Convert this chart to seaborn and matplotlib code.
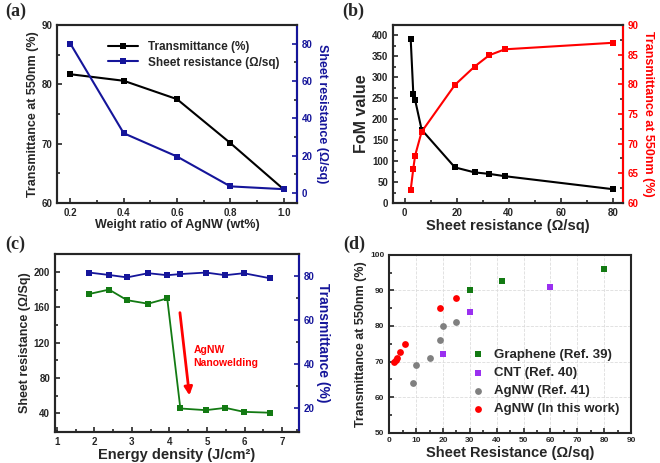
import numpy as np
import matplotlib.pyplot as plt
import seaborn as sns
from matplotlib.ticker import MultipleLocator

sns.set_style("ticks", {"xtick.direction": "in", "ytick.direction": "in"})
plt.rcParams['font.family'] = ['Liberation Sans', 'DejaVu Sans']
plt.rcParams['font.weight'] = 'bold'
plt.rcParams['axes.labelweight'] = 'bold'

# (a) weight ratio
wt_ratio = [0.2, 0.4, 0.6, 0.8, 1.0]
wt_trans = [81.7, 80.6, 77.5, 70.1, 62.3]
wt_rs = [80, 32, 19.5, 3.5, 2]

# (b) FoM vs sheet resistance
fom_rs = [2.3, 3.3, 4.0, 6.5, 19.3, 26.9, 32.5, 38.5, 80]
fom_val = [391, 261, 246, 175, 85, 73, 69.5, 64, 33]
fom_trans = [62.2, 65.8, 68.0, 72.0, 79.9, 83.0, 84.9, 85.9, 87.0]

# (c) energy density
energy = [1.86, 2.39, 2.87, 3.43, 3.94, 4.29, 4.97, 5.49, 5.98, 6.68]
energy_rs = [175, 180, 168, 164, 170, 45.3, 43.4, 46, 41.5, 40.5]
energy_trans = [81.7, 80.6, 79.5, 81.4, 80.5, 81.0, 81.7, 80.5, 81.4, 79.1]

# (d) comparison
gr_rs = [30, 42, 80]
gr_t = [90, 92.6, 96]
cnt_rs = [20, 30, 60]
cnt_t = [72, 84, 91]
ref_rs = [8.75, 10, 15, 19, 20, 25]
ref_t = [64, 69, 71.1, 76.1, 80, 81]
our_rs = [1.75, 2.4, 3.0, 4.0, 6.0, 19, 25]
our_t = [69.8, 70.5, 71.0, 72.8, 74.8, 85, 88]

navy = '#15159a'
red = '#ff0000'
green = '#137a13'
purple = '#9a30f0'
gray = '#808080'

fig = plt.figure(figsize=(6.6, 4.63), dpi=100)
ax_a = fig.add_axes([0.0864, 0.5616, 0.3636, 0.3844])
ax_b = fig.add_axes([0.5955, 0.5616, 0.3485, 0.3844])
ax_c = fig.add_axes([0.0833, 0.0676, 0.3697, 0.3832])
ax_d = fig.add_axes([0.5898, 0.0657, 0.3662, 0.3838])

tick_fs = 7
lab_fs = 9


def style(ax, col=None, side='left'):
    for s in ax.spines.values():
        s.set_linewidth(1.5)
    ax.tick_params(which='both', direction='in', labelsize=tick_fs, width=1.2)
    ax.tick_params(which='major', length=3.5)
    ax.tick_params(which='minor', length=2)
    if col is not None:
        ax.spines['right'].set_color(col)
        ax.tick_params(axis='y', colors=col)
    for t in ax.get_xticklabels() + ax.get_yticklabels():
        t.set_fontweight('bold')


# ---- (a)
ax_a2 = ax_a.twinx()
sns.lineplot(x=wt_ratio, y=wt_trans, ax=ax_a, color='black', marker='s',
             markersize=4.5, markeredgewidth=0, linewidth=1.5, label='Transmittance (%)')
sns.lineplot(x=wt_ratio, y=wt_rs, ax=ax_a2, color=navy, marker='s',
             markersize=4.5, markeredgewidth=0, linewidth=1.5, label='Sheet resistance (Ω/sq)')
ax_a.set_xlim(0.15, 1.05)
ax_a.set_ylim(60, 90)
ax_a2.set_ylim(-5.4, 90)
ax_a.xaxis.set_major_locator(MultipleLocator(0.2))
ax_a.xaxis.set_minor_locator(MultipleLocator(0.1))
ax_a.yaxis.set_major_locator(MultipleLocator(10))
ax_a.yaxis.set_minor_locator(MultipleLocator(5))
ax_a2.yaxis.set_major_locator(MultipleLocator(20))
ax_a2.yaxis.set_minor_locator(MultipleLocator(10))
ax_a.set_xlabel('Weight ratio of AgNW (wt%)', fontsize=lab_fs, labelpad=1)
ax_a.set_ylabel('Transmittance at 550nm (%)', fontsize=lab_fs, labelpad=2)
ax_a2.set_ylabel('Sheet resistance (Ω/sq)', fontsize=lab_fs, color=navy, rotation=270, labelpad=11)
h1, l1 = ax_a.get_legend_handles_labels()
h2, l2 = ax_a2.get_legend_handles_labels()
ax_a2.get_legend().remove()
ax_a.legend(h1 + h2, l1 + l2, loc='upper right', bbox_to_anchor=(0.97, 0.97), frameon=False,
            prop={'size': 8.5, 'weight': 'bold'}, handlelength=2.6, labelspacing=0.3)
style(ax_a)
style(ax_a2, navy)

# ---- (b)
ax_b2 = ax_b.twinx()
sns.lineplot(x=fom_rs, y=fom_val, ax=ax_b, color='black', marker='s',
             markersize=4, markeredgewidth=0, linewidth=1.5)
sns.lineplot(x=fom_rs, y=fom_trans, ax=ax_b2, color=red, marker='s',
             markersize=4, markeredgewidth=0, linewidth=1.5)
ax_b.set_xlim(-4.5, 84)
ax_b.set_ylim(0, 425)
ax_b2.set_ylim(60, 90)
ax_b.xaxis.set_major_locator(MultipleLocator(20))
ax_b.xaxis.set_minor_locator(MultipleLocator(10))
ax_b.yaxis.set_major_locator(MultipleLocator(50))
ax_b.yaxis.set_minor_locator(MultipleLocator(25))
ax_b2.yaxis.set_major_locator(MultipleLocator(5))
ax_b2.yaxis.set_minor_locator(MultipleLocator(2.5))
ax_b.set_xlabel('Sheet resistance (Ω/sq)', fontsize=10.5, labelpad=1)
ax_b.set_ylabel('FoM value', fontsize=11.5, labelpad=2)
ax_b2.set_ylabel('Transmittance at 550nm (%)', fontsize=lab_fs, color=red, rotation=270, labelpad=11)
style(ax_b)
style(ax_b2, red)

# ---- (c)
ax_c2 = ax_c.twinx()
sns.lineplot(x=energy, y=energy_rs, ax=ax_c, color=green, marker='s',
             markersize=4.5, markeredgewidth=0, linewidth=1.3)
sns.lineplot(x=energy, y=energy_trans, ax=ax_c2, color=navy, marker='s',
             markersize=4.5, markeredgewidth=0, linewidth=1.3)
ax_c.set_xlim(0.95, 7.45)
ax_c.set_ylim(19, 220)
ax_c2.set_ylim(9.4, 90)
ax_c.xaxis.set_major_locator(MultipleLocator(1))
ax_c.xaxis.set_minor_locator(MultipleLocator(0.5))
ax_c.yaxis.set_major_locator(MultipleLocator(40))
ax_c.yaxis.set_minor_locator(MultipleLocator(20))
ax_c2.yaxis.set_major_locator(MultipleLocator(20))
ax_c2.yaxis.set_minor_locator(MultipleLocator(10))
ax_c.set_xlabel('Energy density (J/cm²)', fontsize=10.5, labelpad=1)
ax_c.set_ylabel('Sheet resistance (Ω/Sq)', fontsize=lab_fs, labelpad=2)
ax_c2.set_ylabel('Transmittance (%)', fontsize=lab_fs + 1, color=navy, rotation=270, labelpad=11)
ax_c.annotate('', xy=(4.54, 57), xytext=(4.27, 157),
              arrowprops=dict(arrowstyle='-|>', color=red, lw=2, mutation_scale=12))
ax_c.text(4.64, 117, 'AgNW\nNanowelding', color=red, fontsize=7.5, fontweight='bold',
          va='top', ha='left', linespacing=1.3)
style(ax_c)
style(ax_c2, navy)

# ---- (d)
sns.scatterplot(x=gr_rs, y=gr_t, ax=ax_d, color=green, marker='s', s=22, linewidth=0,
                label='Graphene (Ref. 39)')
sns.scatterplot(x=cnt_rs, y=cnt_t, ax=ax_d, color=purple, marker='s', s=22, linewidth=0,
                label='CNT (Ref. 40)')
sns.scatterplot(x=ref_rs, y=ref_t, ax=ax_d, color=gray, marker='o', s=24, linewidth=0,
                label='AgNW (Ref. 41)')
sns.scatterplot(x=our_rs, y=our_t, ax=ax_d, color=red, marker='o', s=24, linewidth=0,
                label='AgNW (In this work)')
ax_d.set_xlim(0, 90)
ax_d.set_ylim(50, 100)
ax_d.xaxis.set_major_locator(MultipleLocator(10))
ax_d.xaxis.set_minor_locator(MultipleLocator(5))
ax_d.yaxis.set_major_locator(MultipleLocator(10))
ax_d.yaxis.set_minor_locator(MultipleLocator(5))
ax_d.grid(True, which='major', color='#dddddd', linestyle='--', linewidth=0.6)
ax_d.set_xlabel('Sheet Resistance (Ω/sq)', fontsize=10.5, labelpad=1)
ax_d.set_ylabel('Transmittance at 550nm (%)', fontsize=9, labelpad=2)
ax_d.legend(loc='lower right', bbox_to_anchor=(1.0, 0.03), frameon=False,
            prop={'size': 9.5, 'weight': 'bold'}, handletextpad=0.2, labelspacing=0.45,
            markerscale=1.0)
style(ax_d)
for t in ax_d.get_xticklabels() + ax_d.get_yticklabels():
    t.set_fontsize(6)

# panel letters
for lbl, (x, y) in zip(['(a)', '(b)', '(c)', '(d)'],
                       [(5, 3), (342, 3), (5, 236), (343, 236)]):
    fig.text(x / 660, 1 - y / 463, lbl, family='Liberation Serif', fontweight='bold',
             fontsize=13, va='top', ha='left')

fig.savefig('out.png', dpi=100)
